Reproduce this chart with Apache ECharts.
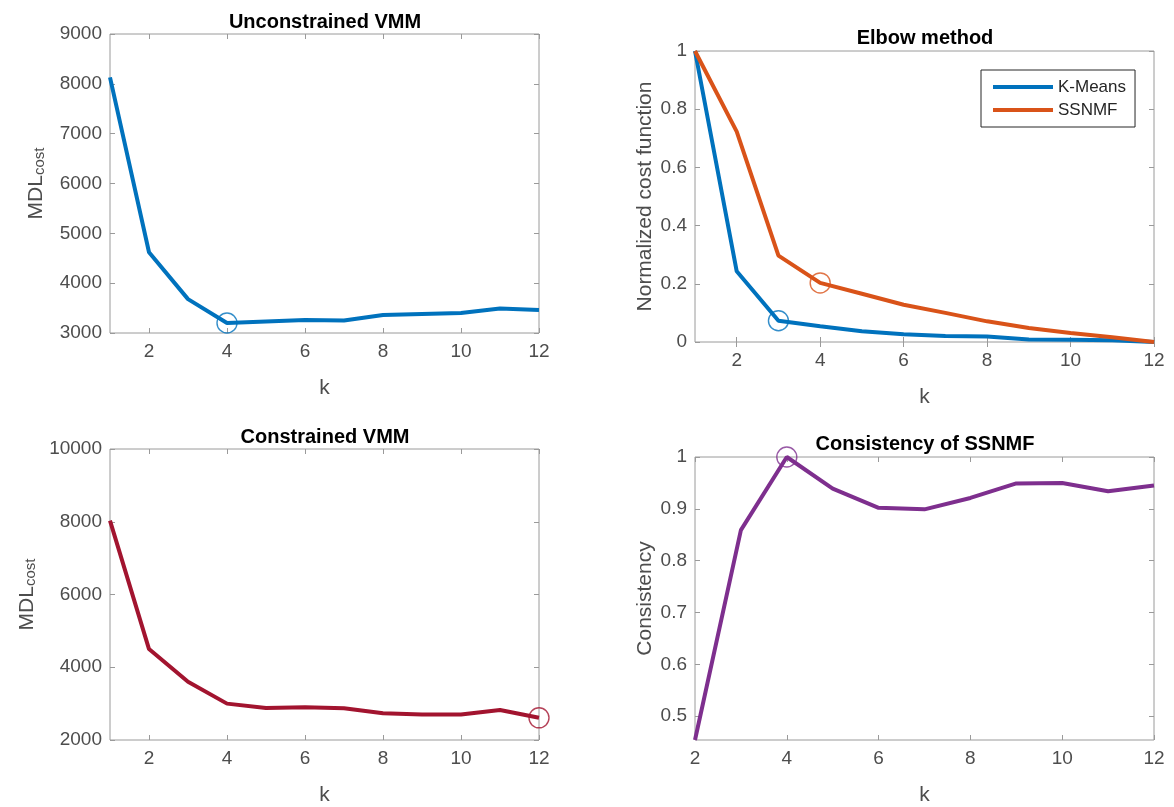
<!DOCTYPE html>
<html>
<head>
<meta charset="utf-8">
<script src="https://cdn.jsdelivr.net/npm/echarts@6/dist/echarts.min.js"></script>
<style>
html,body{margin:0;padding:0;background:#fff;}
#chart{width:1174px;height:807px;}
</style>
</head>
<body>
<div id="chart"></div>
<script>
// ---- data ----
const kAll = [1, 2, 3, 4, 5, 6, 7, 8, 9, 10, 11, 12];
const kCons = [2, 3, 4, 5, 6, 7, 8, 9, 10, 11, 12];
const unconstrainedMDL = [8130, 4620, 3680, 3200, 3230, 3260, 3250, 3360, 3380, 3400, 3490, 3460];
const kmeansCost = [1, 0.243, 0.073, 0.054, 0.037, 0.027, 0.021, 0.019, 0.009, 0.008, 0.006, 0];
const ssnmfCost = [1, 0.723, 0.297, 0.203, 0.166, 0.128, 0.100, 0.071, 0.048, 0.031, 0.016, 0];
const constrainedMDL = [8030, 4500, 3600, 3000, 2880, 2900, 2870, 2735, 2700, 2700, 2825, 2610];
const consistency = [0.454, 0.859, 1.0, 0.939, 0.902, 0.899, 0.921, 0.949, 0.950, 0.934, 0.945];
// highlighted (circled) points: index into arrays
const bestUnconstrained = 3;
const bestKmeans = 2;
const bestSsnmf = 3;
const bestConstrained = 11;
const bestConsistency = 2;
// tick labels
const xTicksA = [2, 4, 6, 8, 10, 12];
const yTicksConsistency = [0.5, 0.6, 0.7, 0.8, 0.9, 1];

const titles = ['Unconstrained VMM', 'Elbow method', 'Constrained VMM', 'Consistency of SSNMF'];
const seriesNames = ['K-Means', 'SSNMF'];

const C_BLUE = '#0072BD', C_ORANGE = '#D95319', C_RED = '#A2142F', C_PURPLE = '#7E2F8E';
const AXIS_COLOR = '#9a9a9a', LABEL_COLOR = '#4d4d4d';
const FONT = 'Liberation Sans, Arial, Helvetica, sans-serif';

const grids = [
  {left: 110, top: 34, width: 429, height: 299},
  {left: 695, top: 51, width: 459, height: 291},
  {left: 110, top: 449, width: 429, height: 298},
  {left: 695, top: 457, width: 459, height: 290}
];

const pairs = (xs, ys) => xs.map((x, i) => [x, ys[i]]);
const plainFmt = v => String(v);

const tickCommon = {show: true, inside: true, length: 5, lineStyle: {color: AXIS_COLOR, width: 1}};
const labelCommon = {color: LABEL_COLOR, fontSize: 19, fontFamily: FONT, formatter: plainFmt};
const nameStyle = {color: LABEL_COLOR, fontSize: 21, fontFamily: FONT};
const mdlName = '{m|MDL}{s|cost}';
const mdlRich = {
  m: {fontSize: 21, lineHeight: 21, verticalAlign: 'top', color: LABEL_COLOR, fontFamily: FONT},
  s: {fontSize: 15, lineHeight: 15, padding: [20, 0, 0, 0], verticalAlign: 'bottom', color: LABEL_COLOR, fontFamily: FONT}
};

function xPair(gi, min, max, ticks) {
  const base = {
    type: 'value', gridIndex: gi, min: min, max: max,
    axisLine: {show: false}, splitLine: {show: false}
  };
  return [
    Object.assign({}, base, {
      position: 'bottom', name: 'k', nameLocation: 'middle', nameGap: 45, nameTextStyle: nameStyle,
      axisTick: Object.assign({}, tickCommon, {customValues: ticks}),
      axisLabel: Object.assign({}, labelCommon, {margin: 9, customValues: ticks})
    }),
    Object.assign({}, base, {
      position: 'top',
      axisTick: Object.assign({}, tickCommon, {customValues: ticks}),
      axisLabel: {show: false}
    })
  ];
}
function yPair(gi, opts) {
  const base = {
    type: 'value', gridIndex: gi, min: opts.min, max: opts.max,
    axisLine: {show: false}, splitLine: {show: false}
  };
  if (opts.interval !== undefined) base.interval = opts.interval;
  const tick = Object.assign({}, tickCommon);
  const lab = Object.assign({}, labelCommon, {margin: 8});
  if (opts.ticks) { tick.customValues = opts.ticks; lab.customValues = opts.ticks; }
  const left = Object.assign({}, base, {
    position: 'left', name: opts.name, nameLocation: 'middle', nameGap: opts.nameGap, nameRotate: 90,
    nameTextStyle: opts.rich ? Object.assign({}, nameStyle, {rich: opts.rich}) : nameStyle,
    axisTick: tick, axisLabel: lab
  });
  const right = Object.assign({}, base, {
    position: 'right', axisTick: Object.assign({}, tick), axisLabel: {show: false}
  });
  return [left, right];
}

const xAxes = [].concat(
  xPair(0, 1, 12, xTicksA),
  xPair(1, 1, 12, xTicksA),
  xPair(2, 1, 12, xTicksA),
  xPair(3, 2, 12, xTicksA)
);
const yAxes = [].concat(
  yPair(0, {min: 3000, max: 9000, interval: 1000, name: mdlName, rich: mdlRich, nameGap: 63}),
  yPair(1, {min: 0, max: 1, interval: 0.2, name: 'Normalized cost function', nameGap: 39}),
  yPair(2, {min: 2000, max: 10000, interval: 2000, name: mdlName, rich: mdlRich, nameGap: 72}),
  yPair(3, {min: 0.454, max: 1, ticks: yTicksConsistency, name: 'Consistency', nameGap: 39})
);

function lineSeries(name, gi, xs, ys, color) {
  return {
    name: name, type: 'line', xAxisIndex: gi * 2, yAxisIndex: gi * 2,
    data: pairs(xs, ys), symbol: 'none', showSymbol: false,
    lineStyle: {color: color, width: 4}, itemStyle: {color: color},
    emphasis: {disabled: true}, z: 3
  };
}
function circleSeries(gi, xs, ys, idx, color) {
  return {
    type: 'scatter', xAxisIndex: gi * 2, yAxisIndex: gi * 2,
    data: [[xs[idx], ys[idx]]], symbol: 'circle', symbolSize: 20, clip: false,
    itemStyle: {color: 'rgba(0,0,0,0)', borderColor: color, borderWidth: 1.4},
    emphasis: {disabled: true}, z: 4, silent: true
  };
}

const series = [
  lineSeries('Unconstrained', 0, kAll, unconstrainedMDL, C_BLUE),
  circleSeries(0, kAll, unconstrainedMDL, bestUnconstrained, C_BLUE),
  lineSeries(seriesNames[0], 1, kAll, kmeansCost, C_BLUE),
  lineSeries(seriesNames[1], 1, kAll, ssnmfCost, C_ORANGE),
  circleSeries(1, kAll, kmeansCost, bestKmeans, C_BLUE),
  circleSeries(1, kAll, ssnmfCost, bestSsnmf, C_ORANGE),
  lineSeries('Constrained', 2, kAll, constrainedMDL, C_RED),
  circleSeries(2, kAll, constrainedMDL, bestConstrained, C_RED),
  lineSeries('Consistency', 3, kCons, consistency, C_PURPLE),
  circleSeries(3, kCons, consistency, bestConsistency, C_PURPLE)
];

const titleCenters = [
  {x: 325, y: 22}, {x: 925, y: 38}, {x: 325, y: 437}, {x: 925, y: 444}
];

const option = {
  animation: false,
  backgroundColor: '#ffffff',
  grid: grids.map(g => Object.assign({show: true, borderColor: AXIS_COLOR, borderWidth: 1, backgroundColor: 'transparent'}, g)),
  xAxis: xAxes,
  yAxis: yAxes,
  legend: {
    data: seriesNames, orient: 'vertical', left: 981, top: 70,
    padding: [8, 9, 8, 12], itemGap: 5, itemWidth: 60, itemHeight: 4,
    icon: 'rect',
    borderColor: '#262626', borderWidth: 1, backgroundColor: '#ffffff',
    textStyle: {color: '#262626', fontSize: 17, fontFamily: FONT, lineHeight: 18},
    selectedMode: false
  },
  graphic: titles.map((t, i) => ({
    type: 'text', x: titleCenters[i].x, y: titleCenters[i].y,
    style: {text: t, fill: '#000000', font: 'bold 20px ' + FONT, textAlign: 'center', textVerticalAlign: 'middle'}
  })),
  series: series
};

const chart = echarts.init(document.getElementById('chart'), null, {renderer: 'canvas'});
chart.setOption(option);
</script>
</body>
</html>
